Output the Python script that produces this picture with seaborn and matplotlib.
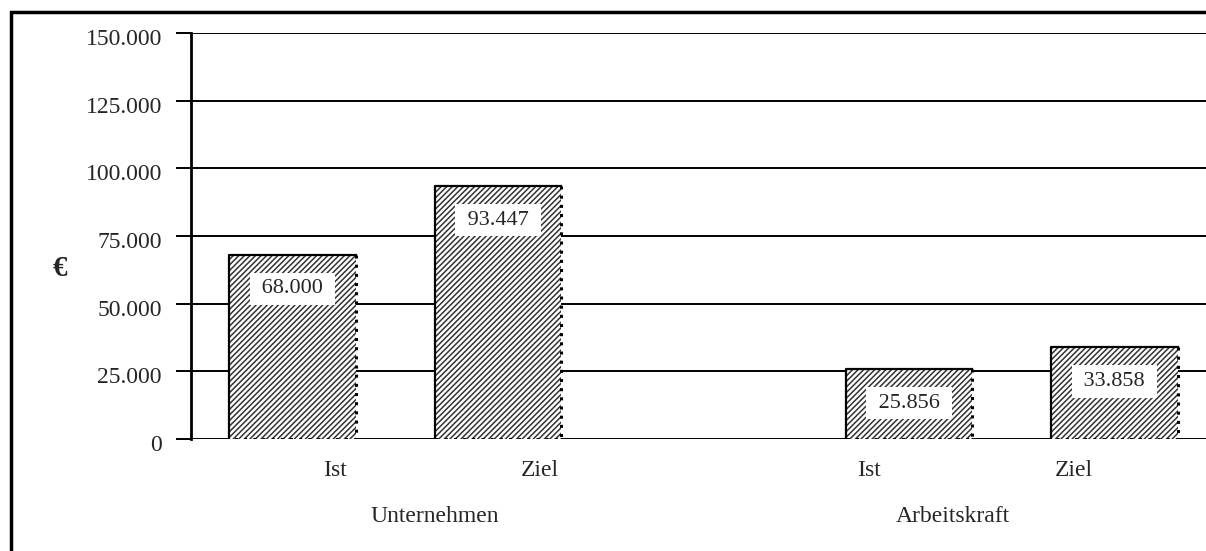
import numpy as np
import pandas as pd
import seaborn as sns
import matplotlib
matplotlib.use("Agg")
from matplotlib import pyplot as plt
from matplotlib.ticker import FuncFormatter
from matplotlib.patches import Rectangle
from matplotlib.transforms import blended_transform_factory, ScaledTranslation

# Data
groups = ['Unternehmen', 'Arbeitskraft']
categories = ['Ist', 'Ziel']
values = [68000, 93447, 25856, 33858]
labels = ['68.000', '93.447', '25.856', '33.858']
y_ticks = [0, 25000, 50000, 75000, 100000, 125000, 150000]

sns.set_style('white')
plt.rcParams['font.family'] = ['Liberation Serif', 'DejaVu Serif']
plt.rcParams['hatch.linewidth'] = 1.1

# bar positions: 3 slots per group, gap of one slot between the groups
pos = [gi * 3 + ci for gi in range(len(groups)) for ci in range(len(categories))]
df = pd.DataFrame({'pos': pos, 'value': values})

fig = plt.figure(figsize=(12.06, 5.51), dpi=100)
ax = fig.add_axes([191 / 1206, 112 / 551, 1 - 191 / 1206, 406 / 551])

sns.barplot(data=df, x='pos', y='value', native_scale=True, width=0.615,
            color='white', edgecolor='#333333', linewidth=0, hatch='//////',
            ax=ax, zorder=3)
# outline: solid left/top, dotted right/bottom like the original
for p in list(ax.patches):
    x0, y0 = p.get_xy()
    x1, y1 = x0 + p.get_width(), y0 + p.get_height()
    ax.plot([x0, x0, x1], [y0, y1, y1], color='black', lw=1.6, zorder=4,
            solid_capstyle='projecting')
    ax.plot([x1, x1, x0], [y1, y0, y0], color='black', lw=2.2, ls=(0, (1, 2)),
            zorder=4)

# value labels in white boxes near the bar top
for x, v, lab in zip(pos, values, labels):
    ax.annotate(' ' + lab + ' ', (x, v), xytext=(0, -34), textcoords='offset pixels',
                ha='center', va='center', fontsize=16, zorder=5,
                bbox=dict(boxstyle='square,pad=0.3', fc='white', ec='none'))

ax.set_xlim(-0.494, 4.445)
ax.set_ylim(0, 150000)
ax.set_yticks(y_ticks)
ax.yaxis.set_major_formatter(FuncFormatter(lambda v, _: f'{v:,.0f}'.replace(',', '.')))
ax.grid(axis='y', color='black', linewidth=1.4, zorder=1)
ax.tick_params(axis='y', length=11, width=1.4, color='black', direction='out',
               pad=10, labelsize=17, left=True)
shift = ScaledTranslation(0, -4 / 100, fig.dpi_scale_trans)
for t in ax.get_yticklabels():
    t.set_transform(t.get_transform() + shift)

# category labels sit a bit off the bars, like the original
cat_pos = [0.207, 1.204, 2.805, 3.803]
ax.set_xticks(cat_pos)
ax.set_xticklabels(categories * len(groups))
ax.tick_params(axis='x', length=0, pad=15, labelsize=17)
ax.set_xlabel('')
ax.set_ylabel('')

trans = blended_transform_factory(ax.transData, ax.transAxes)
for gx, g in zip([0.693, 3.214], groups):
    ax.text(gx, -0.19, g, transform=trans, ha='center', va='center', fontsize=17)

for s in ['top', 'right', 'bottom']:
    ax.spines[s].set_visible(False)
ax.spines['left'].set_color('black')
ax.spines['left'].set_linewidth(2)
ax.spines['left'].set_zorder(6)

fig.text(60 / 1206, 1 - 268 / 551, '€', fontsize=21, fontweight='bold',
         ha='center', va='center')

# outer frame, only left and top edges are visible in the crop
fig.add_artist(Rectangle((11 / 1206, -0.2), 1.2, 1 - 12 / 551 + 0.2,
                         transform=fig.transFigure, fill=False,
                         edgecolor='black', linewidth=2.5))

fig.savefig('out.png', dpi=100)
